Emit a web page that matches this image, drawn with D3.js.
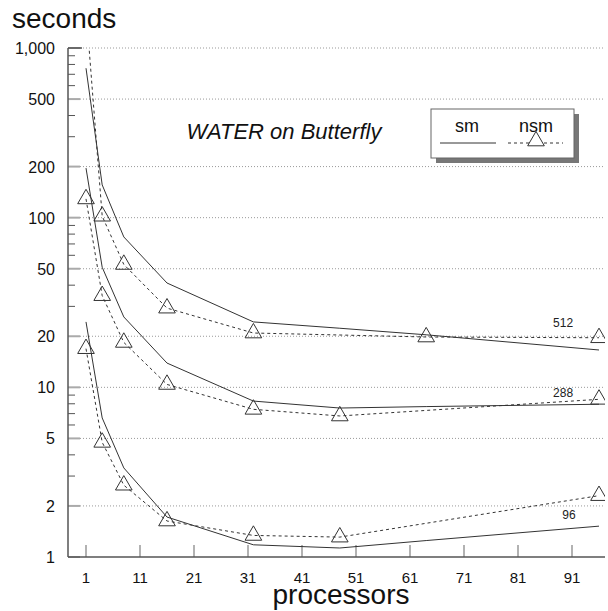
<!DOCTYPE html>
<html><head><meta charset="utf-8">
<script src="https://cdn.jsdelivr.net/npm/d3@7"></script>
<style>body{margin:0;background:#fff}svg{display:block}</style>
</head><body>
<script>
const processors = [1, 4, 8, 16, 32, 48, 64, 96];
const smProcs = [1, 4, 8, 16, 32, 48, 64, 96];
const sizes = ["512", "288", "96"];
const sm512 = [760, 156, 77, 41.2, 24.3, 22.3, 20.4, 16.6];
const nsm512 = [1700, 102, 53, 29.3, 20.9, null, 19.8, 19.6];
const sm288 = [196, 51, 26, 13.9, 8.3, 7.55, 7.7, 7.95];
const nsm288 = [129, 34.7, 18.4, 10.4, 7.42, 6.78, null, 8.5];
const sm96 = [24.3, 6.6, 3.35, 1.72, 1.18, 1.13, 1.25, 1.52];
const nsm96 = [16.9, 4.74, 2.65, 1.63, 1.34, 1.31, null, 2.30];
const yMajor = [1, 2, 5, 10, 20, 50, 100, 200, 500, 1000];
const yMinor = [3,4,6,7,8,9,30,40,60,70,80,90,300,400,600,700,800,900];
const xTicks = [1, 11, 21, 31, 41, 51, 61, 71, 81, 91];

const W = 608, H = 611;
const L = 68, R = 605, T = 48, B = 557;
const svg = d3.select("body").append("svg").attr("width", W).attr("height", H)
  .style("font-family", "'Liberation Sans', Arial, sans-serif");

const x = d3.scaleLinear().domain([1 - 18/5.4, 1 + 519/5.4]).range([L, R]);
const y = d3.scaleLog().domain([1, 1000]).range([B, T]);

// gridlines
svg.append("g").selectAll("line").data(yMajor.slice(1)).join("line")
  .attr("x1", L + 12).attr("x2", R).attr("y1", d => y(d)).attr("y2", d => y(d))
  .attr("stroke", "#999").attr("stroke-width", 1).attr("stroke-dasharray", "1,2");

// y major ticks
svg.append("g").selectAll("line").data(yMajor).join("line")
  .attr("x1", L).attr("x2", L + 12).attr("y1", d => y(d)).attr("y2", d => y(d))
  .attr("stroke", "#aaa").attr("stroke-width", 2);
// y minor ticks
svg.append("g").selectAll("line").data(yMinor).join("line")
  .attr("x1", L).attr("x2", L + 7).attr("y1", d => y(d)).attr("y2", d => y(d))
  .attr("stroke", "#555").attr("stroke-width", 1);
// y labels
svg.append("g").selectAll("text").data(yMajor).join("text")
  .attr("x", 55).attr("y", d => y(d) + 6).attr("text-anchor", "end")
  .attr("font-size", 16).attr("fill", "#111")
  .text(d => d3.format(",")(d));

// x ticks
svg.append("g").selectAll("line").data(xTicks).join("line")
  .attr("x1", d => x(d)).attr("x2", d => x(d)).attr("y1", B).attr("y2", B - 12)
  .attr("stroke", "#999").attr("stroke-width", 1.5);
svg.append("g").selectAll("text").data(xTicks).join("text")
  .attr("x", d => x(d)).attr("y", 583).attr("text-anchor", "middle")
  .attr("font-size", 15).attr("fill", "#111").text(d => d);

// axes lines
svg.append("line").attr("x1", L).attr("x2", L).attr("y1", T).attr("y2", B)
  .attr("stroke", "#555").attr("stroke-width", 1.5);
svg.append("line").attr("x1", L).attr("x2", R).attr("y1", B).attr("y2", B)
  .attr("stroke", "#555").attr("stroke-width", 1.5);
svg.append("line").attr("x1", L).attr("x2", L + 14).attr("y1", T).attr("y2", T)
  .attr("stroke", "#555").attr("stroke-width", 1.5);

// axis titles
svg.append("text").attr("x", 12).attr("y", 28).attr("font-size", 28).attr("fill", "#111").text("seconds");
svg.append("text").attr("x", 341).attr("y", 604).attr("text-anchor", "middle")
  .attr("font-size", 28).attr("fill", "#111").text("processors");

// title
svg.append("text").attr("x", 284).attr("y", 139).attr("text-anchor", "middle")
  .attr("font-size", 22).attr("font-style", "italic").attr("fill", "#111").text("WATER on Butterfly");

// clip
svg.append("clipPath").attr("id", "clip").append("rect")
  .attr("x", L).attr("y", T).attr("width", R - L).attr("height", B - T);
const plot = svg.append("g").attr("clip-path", "url(#clip)");

const line = d3.line().x(d => x(d[0])).y(d => y(d[1]));
const smSeries = [sm512, sm288, sm96];
const nsmSeries = [nsm512, nsm288, nsm96];

smSeries.forEach(s => {
  plot.append("path").datum(smProcs.map((p, i) => [p, s[i]]).filter(d => d[1] != null))
    .attr("d", line).attr("fill", "none").attr("stroke", "#333").attr("stroke-width", 1);
});
const tri = d3.symbol().type(d3.symbolTriangle).size(120);
nsmSeries.forEach(s => {
  const pts = processors.map((p, i) => [p, s[i]]).filter(d => d[1] != null);
  plot.append("path").datum(pts)
    .attr("d", line).attr("fill", "none").attr("stroke", "#333").attr("stroke-width", 1)
    .attr("stroke-dasharray", "3,3");
  plot.append("g").selectAll("path").data(pts).join("path")
    .attr("d", tri).attr("transform", d => `translate(${x(d[0])},${y(d[1])})`)
    .attr("fill", "none").attr("stroke", "#333").attr("stroke-width", 1);
});

// size labels
const labelPos = [[87.5, 22.7], [87.5, 8.77], [89.2, 1.675]];
svg.append("g").selectAll("text").data(sizes).join("text")
  .attr("x", (d, i) => x(labelPos[i][0])).attr("y", (d, i) => y(labelPos[i][1]))
  .attr("font-size", 12).attr("fill", "#222").text(d => d);

// legend
const lg = svg.append("g");
lg.append("rect").attr("x", 436).attr("y", 114).attr("width", 143).attr("height", 49).attr("fill", "#777");
lg.append("rect").attr("x", 431).attr("y", 109).attr("width", 143).attr("height", 49)
  .attr("fill", "#fff").attr("stroke", "#666").attr("stroke-width", 1);
lg.append("text").attr("x", 467).attr("y", 132).attr("text-anchor", "middle").attr("font-size", 18).attr("fill", "#111").text("sm");
lg.append("text").attr("x", 536).attr("y", 132).attr("text-anchor", "middle").attr("font-size", 18).attr("fill", "#111").text("nsm");
lg.append("line").attr("x1", 440).attr("x2", 496).attr("y1", 143).attr("y2", 143).attr("stroke", "#333");
lg.append("line").attr("x1", 508).attr("x2", 563).attr("y1", 143).attr("y2", 143).attr("stroke", "#333").attr("stroke-dasharray", "3,3");
lg.append("path").attr("d", tri).attr("transform", "translate(536,141)").attr("fill", "#fff").attr("stroke", "#333");
</script>
</body></html>
